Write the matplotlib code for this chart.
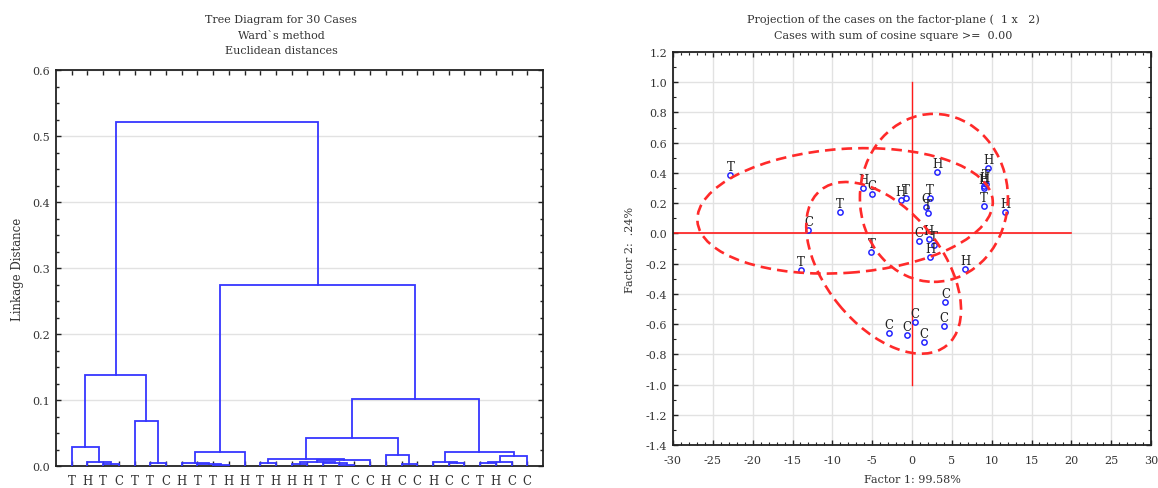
import numpy as np
import matplotlib
matplotlib.use("Agg")
import matplotlib.pyplot as plt
from matplotlib.patches import Ellipse
from matplotlib.transforms import ScaledTranslation
from matplotlib.ticker import MultipleLocator, FixedLocator

plt.rcParams["axes.unicode_minus"] = False

# ---------------- data ----------------
# group code of each case, in dendrogram leaf order
leaf_labels = list("THTCTTCHTTHHTHHHTTCCHCCHCCTHCC")

# Ward linkage: cluster ids 0..29 are cases, 30.. are merged clusters
merge_left = [2, 1, 0, 5, 4, 32, 9, 8, 7, 38, 12, 14, 17, 16, 41, 44, 40, 21, 20, 46,
              24, 23, 26, 52, 53, 51, 49, 39, 35]
merge_right = [3, 30, 31, 6, 33, 34, 10, 36, 37, 11, 13, 15, 18, 42, 43, 19, 45, 22, 47, 48,
               25, 50, 27, 28, 29, 54, 55, 56, 57]
merge_height = [0.003, 0.006, 0.0288, 0.0045, 0.068, 0.138, 0.0015, 0.0035, 0.005, 0.021,
                0.0045, 0.003, 0.0015, 0.004, 0.006, 0.009, 0.0106, 0.0035, 0.017, 0.042,
                0.0045, 0.0065, 0.004, 0.0065, 0.015, 0.021, 0.1015, 0.274, 0.521]

# factor scores of the cases on the plane (Factor 1, Factor 2)
case_group = list("TTTTTTTTTT") + list("HHHHHHHHHH") + list("CCCCCCCCCC")
factor1 = [-22.8, -9.1, -5.1, -13.9, -0.75, 2.2, 9.0, 2.7, 2.0, 9.3,
           -6.1, -1.4, 3.2, 9.6, 9.1, 9.0, 11.7, 2.1, 2.3, 6.7,
           -13.0, -5.0, 1.8, 0.9, 4.2, 0.4, 4.0, -2.9, -0.6, 1.5]
factor2 = [0.387, 0.144, -0.124, -0.24, 0.233, 0.233, 0.18, -0.076, 0.136, 0.33,
           0.30, 0.22, 0.405, 0.43, 0.316, 0.30, 0.144, -0.036, -0.157, -0.235,
           0.02, 0.26, 0.173, -0.05, -0.455, -0.587, -0.614, -0.66, -0.671, -0.716]

# group ellipses: centre (factor units), width/height (inches), rotation (deg)
ell_cx = [-8.4, 2.75, -3.56]
ell_cy = [0.149, 0.235, -0.228]
ell_w = [2.96, 1.48, 2.00]
ell_h = [1.24, 1.68, 1.16]
ell_ang = [4, 0, -51]

# origin cross
hline_x = [-30, 20]
vline_y = [-1.0, 1.0]

# ---------------- figure ----------------
W, H = 1158, 489
fig = plt.figure(figsize=(W / 100, H / 100), dpi=100)
fig.patch.set_facecolor("white")

serif = "DejaVu Serif"
txt_col = "#333333"
grid_col = "#e2e2e2"
blue = "#3636ff"


def fmt1(v):
    v = 0.0 if abs(v) < 1e-9 else v
    return f"{v:.1f}"


# ---------- tree diagram ----------
ax1 = fig.add_axes([56 / W, 22 / H, 487 / W, 396 / H])
n_leaves = len(leaf_labels)
pos = {i: i + 1.0 for i in range(n_leaves)}
hgt = {i: 0.0 for i in range(n_leaves)}
for k, (l, r, h) in enumerate(zip(merge_left, merge_right, merge_height)):
    node = n_leaves + k
    ax1.plot([pos[l], pos[l], pos[r], pos[r]], [hgt[l], h, h, hgt[r]],
             color=blue, lw=1.3, solid_joinstyle="miter", zorder=3)
    pos[node] = (pos[l] + pos[r]) / 2
    hgt[node] = h

ax1.set_xlim(0, n_leaves + 1)
ax1.set_ylim(0, 0.6)
ax1.yaxis.set_major_locator(MultipleLocator(0.1))
ax1.yaxis.set_minor_locator(MultipleLocator(0.025))
ax1.xaxis.set_major_locator(FixedLocator(np.arange(1, n_leaves + 1)))
ax1.set_xticklabels(leaf_labels)
ax1.set_yticklabels([fmt1(v) for v in ax1.get_yticks()])
ax1.grid(axis="y", color=grid_col, lw=1.0, zorder=0)
ax1.set_axisbelow(True)
ax1.tick_params(which="both", direction="in", top=True, right=True, colors="#222222",
                labelcolor=txt_col)
ax1.tick_params(which="major", length=3.5, width=1.0)
ax1.tick_params(which="minor", length=2.5, width=1.0)
ax1.tick_params(axis="x", pad=6, labelsize=8.5)
ax1.tick_params(axis="y", pad=4, labelsize=8)
for lab in ax1.get_xticklabels() + ax1.get_yticklabels():
    lab.set_fontfamily(serif)
for sp in ax1.spines.values():
    sp.set_color("#222222")
    sp.set_linewidth(1.3)

fig.text(281 / W, 1 - 20 / H, "Tree Diagram for 30 Cases", ha="center", va="center",
         fontsize=8, family=serif, color=txt_col)
fig.text(281 / W, 1 - 36 / H, "Ward`s method", ha="center", va="center",
         fontsize=8, family=serif, color=txt_col)
fig.text(281 / W, 1 - 51 / H, "Euclidean distances", ha="center", va="center",
         fontsize=8, family=serif, color=txt_col)
fig.text(18 / W, 1 - 269 / H, "Linkage Distance", ha="center", va="center",
         rotation=90, fontsize=8.5, family=serif, color=txt_col)

# ---------- factor plane ----------
ax2 = fig.add_axes([673 / W, 43 / H, 478 / W, 393 / H])
ax2.set_xlim(-30, 30)
ax2.set_ylim(-1.4, 1.2)
xt = np.arange(-30, 31, 5)
ax2.set_xticks(xt)
ax2.set_xticklabels([f"{int(v)}" for v in xt])
ax2.xaxis.set_minor_locator(MultipleLocator(1))
yt = np.round(np.arange(-1.4, 1.21, 0.2), 1)
ax2.set_yticks(yt)
ax2.set_yticklabels([fmt1(v) for v in yt])
ax2.yaxis.set_minor_locator(MultipleLocator(0.1))
ax2.grid(which="major", color=grid_col, lw=1.0, zorder=0)
ax2.set_axisbelow(True)
ax2.tick_params(which="both", direction="in", top=True, right=True, colors="#222222",
                labelcolor=txt_col, labelsize=8)
ax2.tick_params(which="major", length=3.5, width=1.0)
ax2.tick_params(which="minor", length=2.0, width=0.8)
ax2.tick_params(axis="x", pad=7)
ax2.tick_params(axis="y", pad=4)
for lab in ax2.get_xticklabels() + ax2.get_yticklabels():
    lab.set_fontfamily(serif)
for sp in ax2.spines.values():
    sp.set_color("#222222")
    sp.set_linewidth(1.3)

ax2.plot(hline_x, [0, 0], color="#ff1a1a", lw=1.2, zorder=2)
ax2.plot([0, 0], vline_y, color="#ff1a1a", lw=1.0, zorder=2)

ax2.plot(factor1, factor2, ls="none", marker="o", ms=3.8, mfc="none", mec="#2525ff",
         mew=1.1, zorder=4)
for x, y, g in zip(factor1, factor2, case_group):
    ax2.annotate(g, (x, y), xytext=(0, 1.5), textcoords="offset points", ha="center",
                 va="bottom", fontsize=8.5, family=serif, color="#222222", zorder=5)

for cx, cy, w, h, a in zip(ell_cx, ell_cy, ell_w, ell_h, ell_ang):
    tr = fig.dpi_scale_trans + ScaledTranslation(cx, cy, ax2.transData)
    ax2.add_patch(Ellipse((0, 0), w, h, angle=a, transform=tr, fill=False,
                          ec="#ff2a2a", lw=1.9, linestyle=(0, (4, 2.3)), zorder=6,
                          clip_on=True))

fig.text(893 / W, 1 - 20 / H, "Projection of the cases on the factor-plane (  1 x   2)",
         ha="center", va="center", fontsize=8, family=serif, color=txt_col)
fig.text(893 / W, 1 - 36 / H, "Cases with sum of cosine square >=  0.00",
         ha="center", va="center", fontsize=8, family=serif, color=txt_col)
fig.text(912 / W, 1 - 480 / H, "Factor 1: 99.58%", ha="center", va="center",
         fontsize=8, family=serif, color=txt_col)
fig.text(630 / W, 1 - 250 / H, "Factor 2:  .24%", ha="center", va="center",
         rotation=90, fontsize=8, family=serif, color=txt_col)

fig.savefig("out.png", dpi=100, facecolor="white")
